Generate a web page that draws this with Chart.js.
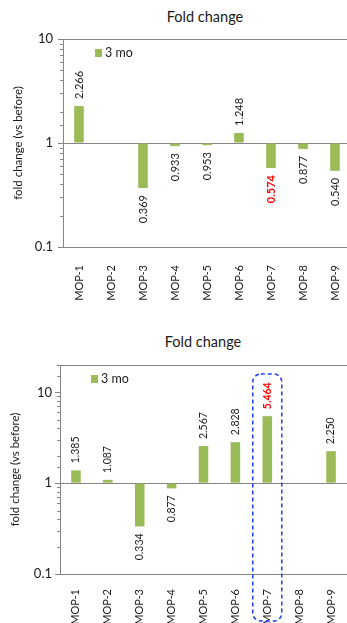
<!DOCTYPE html>
<html>
<head>
<meta charset="utf-8">
<script src="https://cdn.jsdelivr.net/npm/chart.js@4.4.1/dist/chart.umd.min.js"></script>
<style>
  html, body { margin: 0; padding: 0; background: #fff; width: 347px; height: 623px; overflow: hidden; }
  .panel { position: absolute; left: 0; width: 360px; }
  .title { position: absolute; font: 14.5px Lato, sans-serif; color: #1a1a1a; transform: translate(-50%, -50%); white-space: nowrap; }
</style>
</head>
<body>
<div class="title" style="left:205px; top:16px">Fold change</div>
<div class="title" style="left:203px; top:341px">Fold change</div>
<div class="panel" style="top:0; height:310px"><canvas id="chartA" width="360" height="310"></canvas></div>
<div class="panel" style="top:310px; height:313px"><canvas id="chartB" width="360" height="313"></canvas></div>

<script>
// Categories, series and tick labels
const categories = ['MOP-1', 'MOP-2', 'MOP-3', 'MOP-4', 'MOP-5', 'MOP-6', 'MOP-7', 'MOP-8', 'MOP-9'];
const seriesName = '3 mo';
const foldChangeA = [2.266, null, 0.369, 0.933, 0.953, 1.248, 0.574, 0.877, 0.540];
const foldChangeB = [1.385, 1.087, 0.334, 0.877, 2.567, 2.828, 5.464, null, 2.250];
const yTickLabels = ['0.1', '1', '10'];
const yAxisTitle = 'fold change (vs before)';
const highlighted = 'MOP-7';

const FONT = 'Lato, sans-serif';
const AXIS = '#858585';
const TEXT = '#1a1a1a';
const BAR = '#9bbb59';
Chart.defaults.font.family = FONT;

const isDecade = v => Math.abs(Math.log10(v) - Math.round(Math.log10(v))) < 1e-6;
const near = (a, b) => Math.abs(a - b) < 1e-9 * Math.max(1, b);

// Small outside tick marks on the log axis (longer at each decade)
const axisTicks = {
  id: 'axisTicks',
  afterDraw(chart) {
    const y = chart.scales.y, ctx = chart.ctx, x0 = chart.chartArea.left;
    ctx.save();
    ctx.strokeStyle = AXIS;
    ctx.lineWidth = 1;
    y.ticks.forEach(t => {
      const py = Math.round(y.getPixelForValue(t.value)) + 0.5;
      const len = isDecade(t.value) ? 5 : 3;
      ctx.beginPath();
      ctx.moveTo(x0 - len, py);
      ctx.lineTo(x0, py);
      ctx.stroke();
    });
    ctx.restore();
  }
};

// Vertical value labels at the end of each bar
const valueLabels = {
  id: 'valueLabels',
  afterDatasetsDraw(chart, args, opts) {
    const ctx = chart.ctx;
    const meta = chart.getDatasetMeta(0);
    const data = chart.data.datasets[0].data;
    meta.data.forEach((bar, i) => {
      const v = data[i];
      if (v == null) return;
      const hot = chart.data.labels[i] === highlighted;
      const up = v >= 1;
      ctx.save();
      ctx.font = (hot ? 'bold ' : '') + opts.size + 'px ' + FONT;
      ctx.fillStyle = hot ? '#ff0000' : TEXT;
      ctx.translate(bar.x, bar.y + (up ? -opts.gap : opts.gap));
      ctx.rotate(-Math.PI / 2);
      ctx.textAlign = up ? 'left' : 'right';
      ctx.textBaseline = 'middle';
      ctx.fillText(v.toFixed(3), 0, 0);
      ctx.restore();
    });
  }
};

// Legend swatch placed inside the plot area
const insetLegend = {
  id: 'insetLegend',
  afterDraw(chart, args, opts) {
    const ctx = chart.ctx, { left, top } = chart.chartArea;
    const ds = chart.data.datasets[0];
    ctx.save();
    ctx.fillStyle = ds.backgroundColor;
    ctx.fillRect(left + opts.dx, top + 10, 7, 8);
    ctx.fillStyle = TEXT;
    ctx.font = '12.5px ' + FONT;
    ctx.textBaseline = 'middle';
    ctx.fillText(ds.label, left + opts.dx + 10, top + 14);
    ctx.restore();
  }
};

// Dashed rounded frame around the highlighted category
const focusFrame = {
  id: 'focusFrame',
  afterDraw(chart, args, opts) {
    if (!opts.show) return;
    const ctx = chart.ctx, x = chart.scales.x;
    const cx = x.getPixelForValue(categories.indexOf(highlighted));
    const half = 14.5, r = 8;
    const l = cx - half, rt = cx + half;
    const t = chart.chartArea.top + 9, b = chart.height - 2;
    ctx.save();
    ctx.strokeStyle = '#1f3dff';
    ctx.lineWidth = 1.5;
    ctx.setLineDash([4, 3]);
    ctx.beginPath();
    ctx.moveTo(l + r, t);
    ctx.lineTo(rt - r, t);
    ctx.arcTo(rt, t, rt, t + r, r);
    ctx.lineTo(rt, b - r);
    ctx.arcTo(rt, b, rt - r, b, r);
    ctx.lineTo(l + r, b);
    ctx.arcTo(l, b, l, b - r, r);
    ctx.lineTo(l, t + r);
    ctx.arcTo(l, t, l + r, t, r);
    ctx.stroke();
    ctx.restore();
  }
};

function foldChart(id, values, o) {
  return new Chart(document.getElementById(id), {
    type: 'bar',
    data: {
      labels: categories,
      datasets: [{
        label: seriesName,
        data: values,
        base: 1,
        backgroundColor: BAR,
        barPercentage: 0.3,
        categoryPercentage: 1
      }]
    },
    plugins: [axisTicks, valueLabels, insetLegend, focusFrame],
    options: {
      responsive: false,
      animation: false,
      layout: { padding: { top: o.top, right: o.right, left: 0, bottom: 0 } },
      plugins: {
        legend: { display: false },
        tooltip: { enabled: false },
        valueLabels: { size: o.labelSize, gap: 7 },
        insetLegend: { dx: o.legendDx },
        focusFrame: { show: o.frame }
      },
      scales: {
        x: {
          offset: true,
          grid: { display: false },
          border: { color: AXIS, width: 1 },
          ticks: { autoSkip: false, minRotation: 90, maxRotation: 90, padding: o.xPad, color: TEXT, font: { size: 11 } },
          afterFit: s => { s.height = o.bottomH; }
        },
        y: {
          type: 'logarithmic',
          min: 0.1,
          max: o.max,
          border: { color: AXIS, width: 1 },
          grid: {
            drawTicks: false,
            lineWidth: 1,
            color: c => (c.tick && (near(c.tick.value, 1) || near(c.tick.value, o.max))) ? AXIS : 'rgba(0,0,0,0)'
          },
          ticks: {
            autoSkip: false,
            padding: o.yPad,
            color: TEXT,
            font: { size: 13 },
            callback: v => {
              const lbl = yTickLabels.find(t => near(Number(t), v));
              return lbl === undefined ? '' : lbl;
            }
          },
          title: { display: true, text: yAxisTitle, color: TEXT, font: { size: 11.5 }, padding: { top: o.titlePad, bottom: 0 } },
          afterFit: s => { s.width = o.left; }
        }
      }
    }
  });
}

foldChart('chartA', foldChangeA, {
  max: 10, top: 39, right: 9, left: 63, bottomH: 63,
  xPad: 10, yPad: 10, titlePad: 11, labelSize: 11, legendDx: 32, frame: false
});

foldChart('chartB', foldChangeB, {
  max: 20, top: 55, right: 13, left: 60, bottomH: 49,
  xPad: 7, yPad: 8, titlePad: 8, labelSize: 10.5, legendDx: 31, frame: true
});
</script>
</body>
</html>
